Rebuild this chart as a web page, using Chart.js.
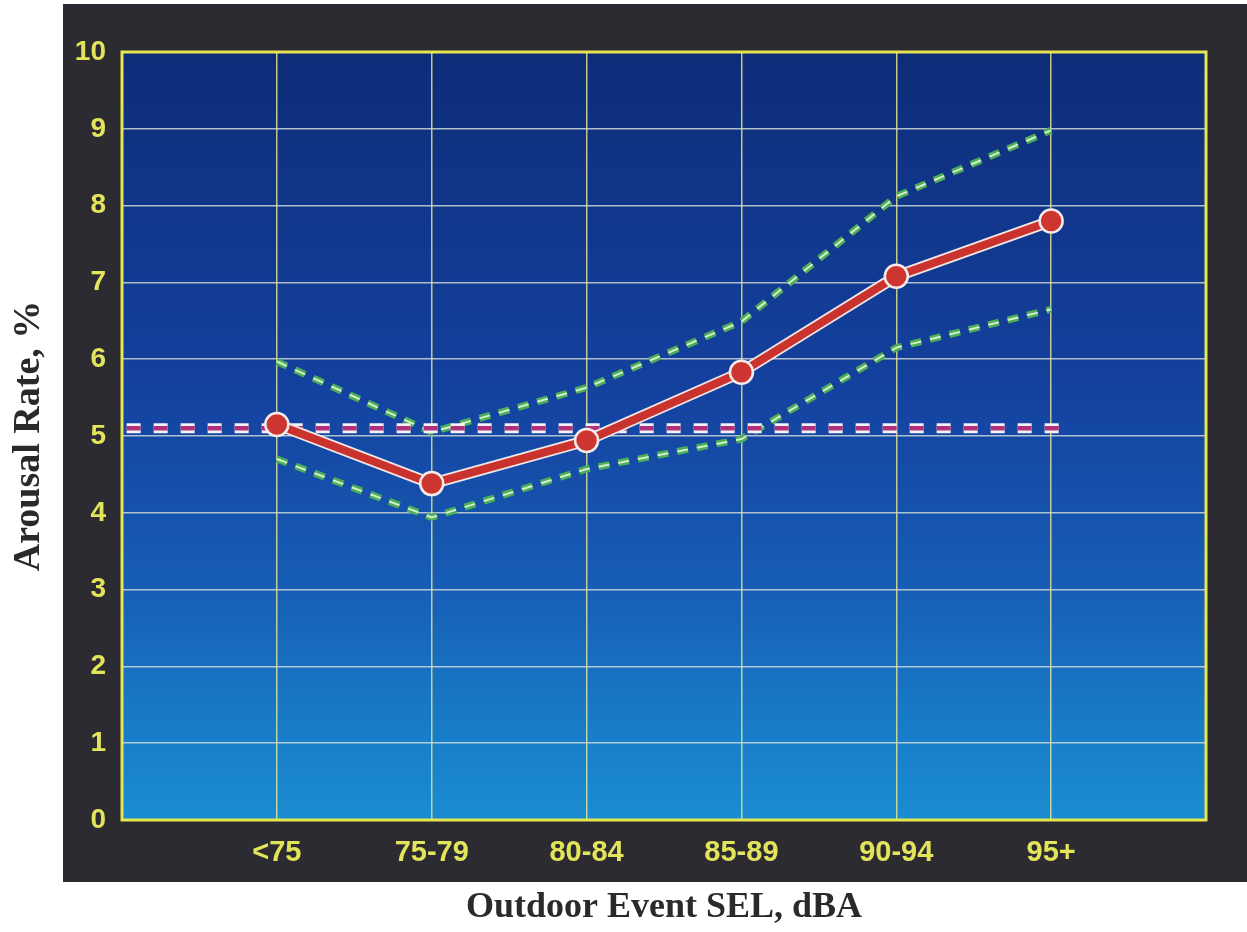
<!DOCTYPE html>
<html>
<head>
<meta charset="utf-8">
<script src="https://cdn.jsdelivr.net/npm/chart.js@4/dist/chart.umd.min.js"></script>
<style>
  html, body { margin: 0; padding: 0; background: #ffffff; }
  #wrap { width: 1247px; height: 932px; position: relative; }
</style>
</head>
<body>
<div id="wrap"><canvas id="c" width="1247" height="932"></canvas></div>
<script>
// ---- data ----
const categories = ['<75', '75-79', '80-84', '85-89', '90-94', '95+'];
const categoryPositions = [1, 2, 3, 4, 5, 6];
const arousalRate = [5.15, 4.38, 4.94, 5.83, 7.08, 7.8];
const upperBound = [5.97, 5.05, 5.63, 6.49, 8.12, 8.98];
const lowerBound = [4.7, 3.94, 4.57, 4.96, 6.15, 6.65];
const baselineLevel = 5.1;
const baselineExtent = [0.03, 6.12];
const yTicks = [0, 1, 2, 3, 4, 5, 6, 7, 8, 9, 10];
const xTitle = 'Outdoor Event SEL, dBA';
const yTitle = 'Arousal Rate, %';

const toPts = (vals) => vals.map((v, i) => ({ x: categoryPositions[i], y: v }));
const baselinePts = baselineExtent.map(x => ({ x: x, y: baselineLevel }));

const panelPlugin = {
  id: 'panel',
  beforeDraw(chart) {
    const ctx = chart.ctx;
    const a = chart.chartArea;
    ctx.save();
    ctx.fillStyle = '#2b2b31';
    ctx.fillRect(63, 4, 1247 - 63, 882 - 4);
    const g = ctx.createLinearGradient(0, a.top, 0, a.bottom);
    g.addColorStop(0, '#0e2c78');
    g.addColorStop(0.45, '#1442a0');
    g.addColorStop(0.7, '#175eb6');
    g.addColorStop(0.86, '#1879c6');
    g.addColorStop(1, '#1a8cd2');
    ctx.fillStyle = g;
    ctx.fillRect(a.left, a.top, a.right - a.left, a.bottom - a.top);
    ctx.restore();
  },
  beforeDatasetsDraw(chart) {
    const ctx = chart.ctx;
    const a = chart.chartArea;
    ctx.save();
    ctx.strokeStyle = '#e6e650';
    ctx.lineWidth = 3;
    ctx.strokeRect(a.left, a.top, a.right - a.left, a.bottom - a.top);
    ctx.restore();
  }
};

const greenDash = [11, 9];
const pinkDash = [14, 13];

const datasets = [
  { data: toPts(arousalRate), borderColor: '#c9322d', borderWidth: 8, pointRadius: 11.5,
    pointBackgroundColor: '#cc3530', pointBorderColor: '#f4eaea', pointBorderWidth: 2.5, order: 0 },
  { data: toPts(arousalRate), borderColor: '#f0e6e6', borderWidth: 11.5, pointRadius: 0, order: 1 },
  { data: baselinePts, borderColor: '#b0307a', borderWidth: 4.5, borderDash: pinkDash, pointRadius: 0, order: 2 },
  { data: baselinePts, borderColor: '#f4f0f4', borderWidth: 10, borderDash: pinkDash, pointRadius: 0, order: 3 },
  { data: toPts(upperBound), borderColor: '#d4eecb', borderWidth: 2, borderDash: greenDash, pointRadius: 0, order: 4 },
  { data: toPts(upperBound), borderColor: '#4caf58', borderWidth: 7, borderDash: greenDash, pointRadius: 0, order: 5 },
  { data: toPts(lowerBound), borderColor: '#d4eecb', borderWidth: 2, borderDash: greenDash, pointRadius: 0, order: 4 },
  { data: toPts(lowerBound), borderColor: '#4caf58', borderWidth: 7, borderDash: greenDash, pointRadius: 0, order: 5 }
];
datasets.forEach(d => { d.fill = false; d.tension = 0; d.borderCapStyle = 'butt'; d.pointHoverRadius = d.pointRadius; });

new Chart(document.getElementById('c'), {
  type: 'line',
  data: { datasets: datasets },
  options: {
    responsive: false,
    animation: false,
    events: [],
    layout: { padding: { top: 52, right: 41, left: 0, bottom: 0 } },
    plugins: { legend: { display: false }, tooltip: { enabled: false } },
    scales: {
      x: {
        type: 'linear', min: 0, max: 7,
        afterBuildTicks(scale) { scale.ticks = [0, 1, 2, 3, 4, 5, 6, 7].map(v => ({ value: v })); },
        afterFit(scale) { scale.height = 112; },
        ticks: {
          autoSkip: false, maxRotation: 0, padding: 16, color: '#e4e45a',
          font: { family: 'Liberation Sans, Arial, sans-serif', size: 29, weight: 'bold' },
          callback(v) { const i = categoryPositions.indexOf(v); return i >= 0 ? categories[i] : ''; }
        },
        grid: { color: 'rgba(225,228,140,0.85)', lineWidth: 1.5, drawTicks: false },
        border: { display: false },
        title: { display: true, text: xTitle, color: '#2a2a2a',
          font: { family: 'Liberation Serif, Times New Roman, serif', size: 36, weight: 'bold' },
          padding: { top: 10, bottom: 3 } }
      },
      y: {
        min: 0, max: 10,
        afterBuildTicks(scale) { scale.ticks = yTicks.map(v => ({ value: v })); },
        afterFit(scale) { scale.width = 122; },
        ticks: {
          padding: 16, color: '#e4e45a',
          font: { family: 'Liberation Sans, Arial, sans-serif', size: 28, weight: 'bold' }
        },
        grid: { color: 'rgba(215,225,215,0.8)', lineWidth: 1.5, drawTicks: false },
        border: { display: false },
        title: { display: true, text: yTitle, color: '#2a2a2a',
          font: { family: 'Liberation Serif, Times New Roman, serif', size: 38, weight: 'bold' },
          padding: { top: 6, bottom: 10 } }
      }
    }
  },
  plugins: [panelPlugin]
});
</script>
</body>
</html>
